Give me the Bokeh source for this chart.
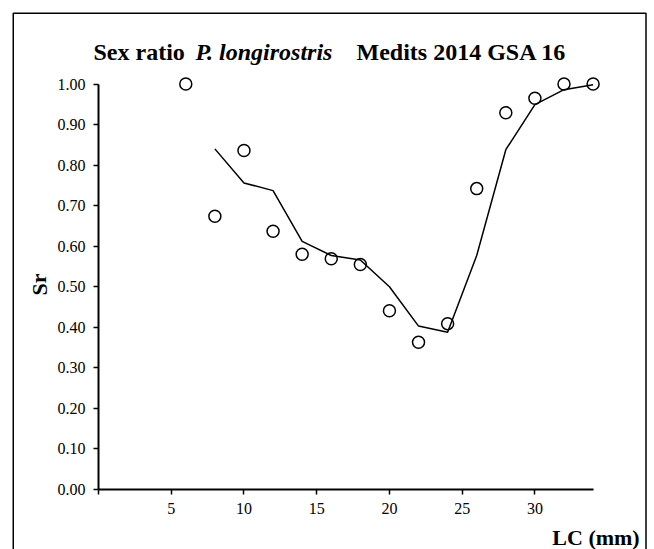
from bokeh.plotting import figure
from bokeh.models import FixedTicker, NumeralTickFormatter, Label, Range1d
from bokeh.embed import file_html
from bokeh.resources import INLINE

# ---- data ----
lc_obs = [6, 8, 10, 12, 14, 16, 18, 20, 22, 24, 26, 28, 30, 32, 34]
sr_obs = [1.00, 0.674, 0.836, 0.637, 0.580, 0.569, 0.555, 0.441, 0.363, 0.409,
          0.742, 0.929, 0.965, 1.00, 1.00]
lc_fit = [8, 10, 12, 14, 16, 18, 20, 22, 24, 26, 28, 30, 32, 34]
sr_fit = [0.840, 0.756, 0.737, 0.612, 0.577, 0.566, 0.500, 0.403, 0.388, 0.577,
          0.838, 0.949, 0.986, 0.998]
x_ticks = [0, 5, 10, 15, 20, 25, 30]
y_ticks = [0.0, 0.1, 0.2, 0.3, 0.4, 0.5, 0.6, 0.7, 0.8, 0.9, 1.0]

FONT = "Liberation Serif"
W, H = 654, 549

# geometry of the plot area in page pixels
X0_PX, X_PER = 98.0, 14.547     # x = 0 at 98 px, px per mm
Y0_PX, Y_PER = 489.0, 405.5     # y = 0 at 489 px, px per unit


def dx(px):
    return (px - X0_PX) / X_PER


def dy(py):
    return (Y0_PX - py) / Y_PER


p = figure(width=W, height=H, output_backend="svg", toolbar_location=None,
           x_range=Range1d(dx(0), dx(W)), y_range=Range1d(dy(H), dy(0)),
           min_border=0, min_border_left=0, min_border_right=0,
           min_border_top=0, min_border_bottom=0)

p.outline_line_color = None
p.grid.visible = False
p.background_fill_color = "white"
p.border_fill_color = "white"

for ax in (p.xaxis[0], p.yaxis[0]):
    ax.fixed_location = 0
    ax.axis_line_width = 2
    ax.axis_line_color = "black"
    ax.major_tick_line_width = 1.5
    ax.major_tick_line_color = "black"
    ax.major_tick_in = 0
    ax.major_tick_out = 5
    ax.minor_tick_line_color = None
    ax.major_label_text_font = FONT
    ax.major_label_text_font_size = "16px"
    ax.major_label_text_color = "black"
    ax.major_label_standoff = 8

p.xaxis[0].ticker = FixedTicker(ticks=x_ticks)
p.xaxis[0].bounds = (0, 34)
p.xaxis[0].major_label_overrides = {0: ""}
p.yaxis[0].ticker = FixedTicker(ticks=y_ticks)
p.yaxis[0].formatter = NumeralTickFormatter(format="0.00")
p.yaxis[0].bounds = (0, 1)

# chart-area border (its bottom edge lies below the window)
p.line([dx(12.75), dx(12.75), dx(645.5), dx(645.5)],
       [dy(600), dy(12.75), dy(12.75), dy(600)],
       line_color="black", line_width=1.5)

p.line(lc_fit, sr_fit, line_color="black", line_width=1.5)
p.scatter(lc_obs, sr_obs, marker="circle", size=12, fill_color=None,
          line_color="black", line_width=1.5)


def lab(px, py, text, size, style, align="left", baseline="alphabetic", angle=0.0):
    p.add_layout(Label(x=dx(px), y=dy(py), text=text,
                       text_font=FONT, text_font_size=size, text_font_style=style,
                       text_align=align, text_baseline=baseline, angle=angle,
                       text_color="black"))


lab(93, 51, "Sex ratio", "24px", "bold")
lab(195, 51, "P. longirostris", "24px", "bold italic")
lab(356, 51, "Medits 2014 GSA 16", "24px", "bold")
lab(595.5, 537, "LC (mm)", "22px", "bold", align="center")
lab(38.5, 284, "Sr", "22px", "bold", align="center", baseline="middle", angle=1.5708)

open("out.html", "w").write(file_html(p, INLINE))
